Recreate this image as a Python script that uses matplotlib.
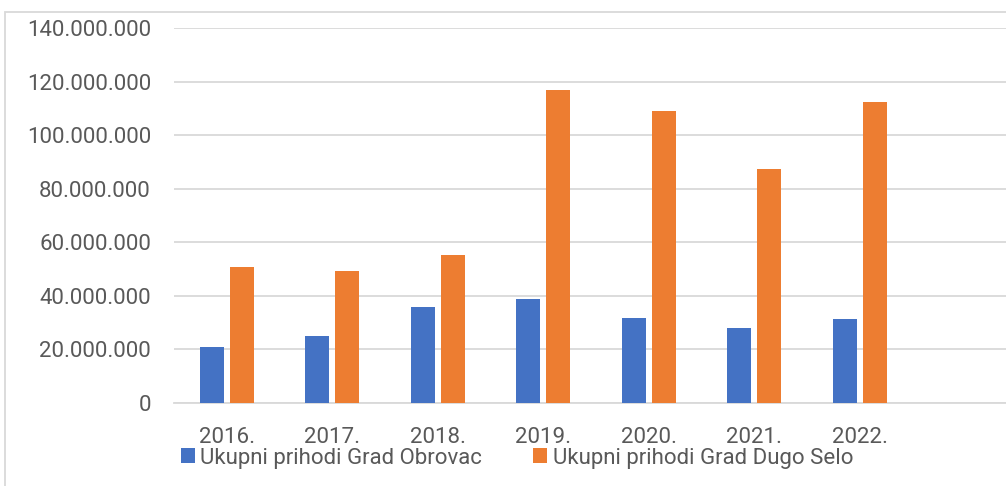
import matplotlib
matplotlib.use("Agg")
import matplotlib.pyplot as plt
from matplotlib.ticker import FuncFormatter, MultipleLocator
from matplotlib.patches import Rectangle
import numpy as np

categories = ["2016.", "2017.", "2018.", "2019.", "2020.", "2021.", "2022.", ""]
obrovac = [20.7e6, 24.9e6, 35.8e6, 38.7e6, 31.6e6, 27.8e6, 31.4e6, np.nan]
dugo_selo = [50.7e6, 49.3e6, 55.2e6, 116.8e6, 109.0e6, 87.4e6, 112.5e6, np.nan]
series_names = ["Ukupni prihodi Grad Obrovac", "Ukupni prihodi Grad Dugo Selo"]

BLUE = "#4472C4"
ORANGE = "#ED7D31"
TEXT = "#595959"
GRID = "#D9D9D9"
FONT = "Roboto"
FS = 16

plt.rcParams["font.family"] = [FONT, "DejaVu Sans"]

fig = plt.figure(figsize=(10.06, 4.86), dpi=100)
W, H = 1006, 486
left, right, top, bottom = 174, 1018, 28, 402.7
ax = fig.add_axes([left / W, (H - bottom) / H, (right - left) / W, (bottom - top) / H])

x = np.arange(len(categories))
bw = 0.227
off = 0.142
ax.bar(x - off, obrovac, bw, color=BLUE, label=series_names[0], zorder=3)
ax.bar(x + off, dugo_selo, bw, color=ORANGE, label=series_names[1], zorder=3)

ax.set_xlim(-0.5, len(categories) - 0.5)
ax.set_ylim(0, 140e6)
ax.yaxis.set_major_locator(MultipleLocator(20e6))
ax.yaxis.set_major_formatter(FuncFormatter(lambda v, p: f"{int(round(v)):,}".replace(",", ".")))
ax.set_xticks(x)
ax.set_xticklabels(categories)
ax.grid(axis="y", color=GRID, linewidth=1.3, zorder=0)
for s in ["top", "right", "left"]:
    ax.spines[s].set_visible(False)
ax.spines["bottom"].set_color(GRID)
ax.spines["bottom"].set_linewidth(1.3)
ax.tick_params(axis="both", length=0, labelsize=FS, labelcolor=TEXT)
ax.tick_params(axis="y", pad=16.6)
ax.tick_params(axis="x", pad=17.5)

leg = fig.legend(loc="center left", bbox_to_anchor=(181 / W, (H - 458) / H), ncol=2,
                 frameon=False, fontsize=FS, handlelength=0.62, handleheight=0.62,
                 handletextpad=0.25, columnspacing=2.3, borderaxespad=0, borderpad=0)
for t in leg.get_texts():
    t.set_color(TEXT)

# chart border
fig.patches.append(Rectangle((5 / W, -0.1), 1.2, 1.1 - 12 / H, transform=fig.transFigure,
                             fill=False, edgecolor=GRID, linewidth=1.3))

fig.savefig("out.png", dpi=100)
